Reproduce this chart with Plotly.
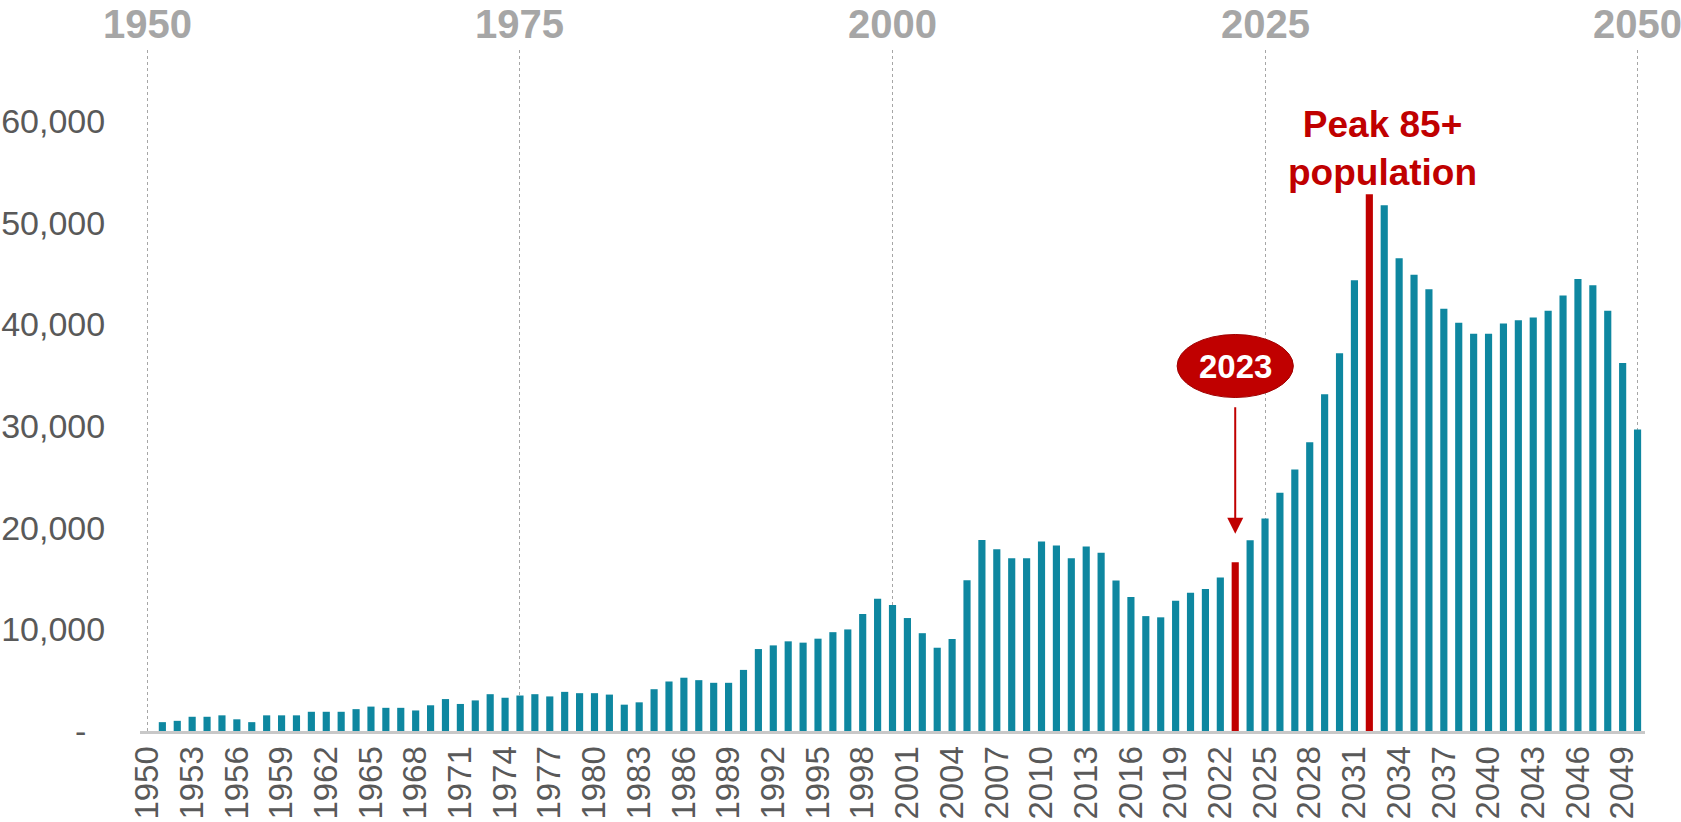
import plotly.graph_objects as go

years = list(range(1950, 2051))
population_85 = [
    0, 870, 1000, 1400, 1400, 1540, 1150, 870, 1540, 1540,
    1540, 1890, 1890, 1890, 2150, 2400, 2280, 2280, 2020, 2530,
    3140, 2660, 3010, 3620, 3270, 3490, 3620, 3400, 3850, 3720,
    3720, 3580, 2590, 2820, 4110, 4870, 5240, 5000, 4740, 4740,
    6010, 8060, 8420, 8820, 8690, 9080, 9720, 9990, 11510, 13000,
    12400, 11110, 9620, 8190, 9050, 14830, 18780, 17870, 16980, 16980,
    18650, 18240, 16980, 18150, 17520, 14800, 13180, 11300, 11180, 12800,
    13600, 13970, 15100, 16600, 18770, 20890, 23440, 25730, 28400, 33110,
    37160, 44330, 52790, 51710, 46500, 44870, 43450, 41530, 40160, 39070,
    39070, 40080, 40410, 40660, 41330, 42830, 44450, 43830, 41330, 36200,
    29650,
]
highlight_years = [2023, 2032]
bottom_tick_years = list(range(1950, 2050, 3))
top_tick_years = [1950, 1975, 2000, 2025, 2050]
y_tick_vals = [0, 10000, 20000, 30000, 40000, 50000, 60000]
y_tick_text = ["-\u00a0\u00a0", "10,000", "20,000", "30,000", "40,000", "50,000", "60,000"]

TEAL = "#0E87A0"
RED = "#C00000"
FONT = "Arial, 'Liberation Sans', sans-serif"

colors = [RED if y in highlight_years else TEAL for y in years]

fig = go.Figure()
fig.add_trace(go.Bar(
    x=years, y=population_85, marker=dict(color=colors, line=dict(width=0)),
    width=0.48, xaxis="x", yaxis="y", hoverinfo="x+y", showlegend=False,
))
fig.add_trace(go.Scatter(
    x=[years[0], years[-1]], y=[None, None], xaxis="x2", yaxis="y",
    mode="markers", marker=dict(opacity=0), showlegend=False, hoverinfo="skip",
))

xr = [years[0] - 0.5, years[-1] + 0.5]
fig.update_layout(
    width=1681, height=822,
    margin=dict(l=140, r=36, t=50, b=91),
    paper_bgcolor="white", plot_bgcolor="white",
    font=dict(family=FONT),
    xaxis=dict(
        range=xr, tickmode="array", tickvals=bottom_tick_years,
        ticktext=[str(y) for y in bottom_tick_years], tickangle=-90,
        tickfont=dict(size=33, color="#595959", family=FONT),
        showgrid=False, zeroline=False, showline=True, linecolor="#C8C8C8", linewidth=3,
        ticks="", ticklabelstandoff=-1, automargin=False,
    ),
    xaxis2=dict(
        range=xr, overlaying="x", side="top", anchor="y", tickmode="array",
        tickvals=top_tick_years, showticklabels=False,
        showgrid=True, gridcolor="#A6A6A6", gridwidth=1, griddash="dot",
        zeroline=False, showline=False, ticks="", automargin=False,
    ),
    yaxis=dict(
        range=[0, 66980], tickmode="array", tickvals=y_tick_vals, ticktext=y_tick_text,
        tickfont=dict(size=34, color="#595959", family=FONT),
        showgrid=False, zeroline=False, showline=False,
        ticks="outside", ticklen=27, tickcolor="rgba(0,0,0,0)", automargin=False,
    ),
)

# top era labels
for ty in top_tick_years:
    fig.add_annotation(x=ty, y=1, xref="x", yref="paper", yanchor="middle", yshift=26,
                       text=f"<b>{ty}</b>", showarrow=False,
                       font=dict(size=40, color="#A6A6A6", family=FONT))

# 2023 marker bubble
fig.add_shape(type="circle", xref="x", yref="y", x0=2023 - 3.9, x1=2023 + 3.9,
              y0=32800, y1=39000, fillcolor=RED, line=dict(color="#A00000", width=1), layer="above")
fig.add_annotation(x=2023, y=35900, xref="x", yref="y", text="<b>2023</b>", showarrow=False,
                   font=dict(size=33, color="white", family=FONT))
fig.add_annotation(x=2023, y=19400, ax=2023, ay=32000, xref="x", yref="y", axref="x", ayref="y",
                   text="", showarrow=True, arrowhead=2, arrowsize=1.6, arrowwidth=2, arrowcolor=RED)

fig.add_annotation(x=2032.9, y=57300, xref="x", yref="y", text="<b>Peak 85+<br>population</b>",
                   showarrow=False, font=dict(size=37, color=RED, family=FONT), align="center")

fig.write_html("out.html", config={"displayModeBar": False},
               post_script="document.body.style.margin='0';document.body.style.overflow='hidden';")
